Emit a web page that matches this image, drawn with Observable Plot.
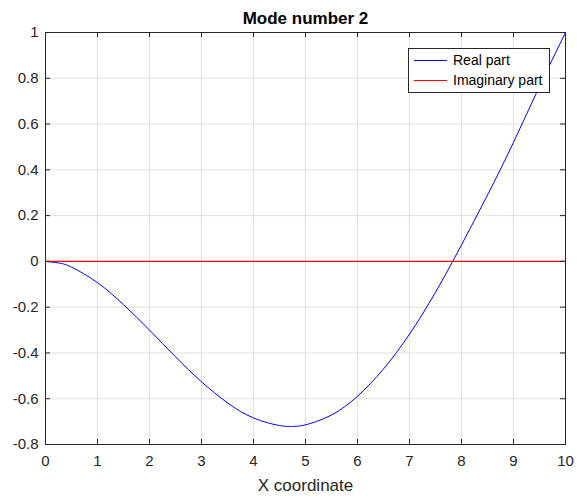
<!DOCTYPE html>
<html><head><meta charset="utf-8">
<script src="https://cdn.jsdelivr.net/npm/d3@7"></script>
<script src="https://cdn.jsdelivr.net/npm/@observablehq/plot@0.6"></script>
<style>
body{margin:0;background:#fff;}
#wrap{position:relative;width:577px;height:499px;font-family:"Liberation Sans",Arial,sans-serif;}
#legend{position:absolute;left:408px;top:48px;width:142px;height:45px;border:1px solid #262626;background:#fff;box-sizing:border-box;font-size:14px;color:#000;}
.item{position:absolute;left:0;height:20px;width:140px;}
.sw{position:absolute;left:5px;width:33px;height:0;border-top:1px solid;}
.lab{position:absolute;left:44px;line-height:16px;white-space:nowrap;}
</style>
</head><body>
<div id="wrap"></div>
<script>
const xValues = [0,0.25,0.5,1,1.5,2,2.5,3,3.5,4,4.5,4.75,5,5.5,6,6.5,7,7.5,8,8.5,9,9.5,10];
const realPart = [0,-0.007,-0.025,-0.093,-0.189,-0.300,-0.417,-0.526,-0.618,-0.684,-0.717,-0.721,-0.714,-0.671,-0.589,-0.470,-0.318,-0.135,0.072,0.29,0.52,0.765,1.0];
const imagPart = [0,0,0,0,0,0,0,0,0,0,0,0,0,0,0,0,0,0,0,0,0,0,0];
const xTicks = [0,1,2,3,4,5,6,7,8,9,10];
const yTicks = [-0.8,-0.6,-0.4,-0.2,0,0.2,0.4,0.6,0.8,1];
const seriesNames = ["Real part","Imaginary part"];
const seriesColors = ["#0000ff","#ff0000"];
const titleText = "Mode number 2";
const xLabelText = "X coordinate";

const W = 577, H = 499;
const mT = 32, mB = 55, mL = 45, mR = 12;
const pw = W - mL - mR, ph = H - mT - mB;
const tick = 5;
const axisColor = "#262626";
const gridColor = "#e0e0e0";

const realData = xValues.map((x,i)=>({x, y: realPart[i]}));
const imagData = xValues.map((x,i)=>({x, y: imagPart[i]}));
const fmt = d => String(+d.toFixed(1));

const chart = Plot.plot({
  width: W, height: H,
  marginTop: mT, marginBottom: mB, marginLeft: mL, marginRight: mR,
  style: {fontFamily: "'Liberation Sans', Arial, sans-serif", fontSize: "15px", background: "#fff"},
  x: {domain: [0,10]},
  y: {domain: [-0.8,1]},
  marks: [
    Plot.gridX(xTicks, {stroke: gridColor, strokeOpacity: 1}),
    Plot.gridY(yTicks, {stroke: gridColor, strokeOpacity: 1}),
    Plot.line(realData, {x: "x", y: "y", stroke: seriesColors[0], strokeWidth: 1, curve: "natural"}),
    Plot.line(imagData, {x: "x", y: "y", stroke: seriesColors[1], strokeWidth: 1.2}),
    Plot.frame({stroke: axisColor}),
    Plot.tickX(xTicks, {x: d=>d, insetTop: ph - tick, stroke: axisColor}),
    Plot.tickX(xTicks, {x: d=>d, insetBottom: ph - tick, stroke: axisColor}),
    Plot.tickY(yTicks, {y: d=>d, insetRight: pw - tick, stroke: axisColor}),
    Plot.tickY(yTicks, {y: d=>d, insetLeft: pw - tick, stroke: axisColor}),
    Plot.axisX(xTicks, {tickSize: 0, tickPadding: 11, label: null, tickFormat: fmt, fill: axisColor, fontSize: 15}),
    Plot.axisY(yTicks, {tickSize: 0, tickPadding: 7, label: null, tickFormat: fmt, fill: axisColor, fontSize: 15}),
    Plot.text([titleText], {frameAnchor: "top", lineAnchor: "middle", dy: -14, text: d=>d, fontWeight: "bold", fontSize: 17, fill: "#000"}),
    Plot.text([xLabelText], {frameAnchor: "bottom", lineAnchor: "middle", dy: 41, text: d=>d, fontSize: 17, fill: axisColor})
  ]
});
const wrap = document.getElementById("wrap");
wrap.appendChild(chart);

const legend = document.createElement("div");
legend.id = "legend";
seriesNames.forEach((name,i)=>{
  const item = document.createElement("div");
  item.className = "item";
  item.style.top = (2 + i*20) + "px";
  const sw = document.createElement("div");
  sw.className = "sw";
  sw.style.top = "9px";
  sw.style.borderTopColor = seriesColors[i];
  const lab = document.createElement("div");
  lab.className = "lab";
  lab.style.top = "1px";
  lab.textContent = name;
  item.appendChild(sw); item.appendChild(lab);
  legend.appendChild(item);
});
wrap.appendChild(legend);
</script>
</body></html>
